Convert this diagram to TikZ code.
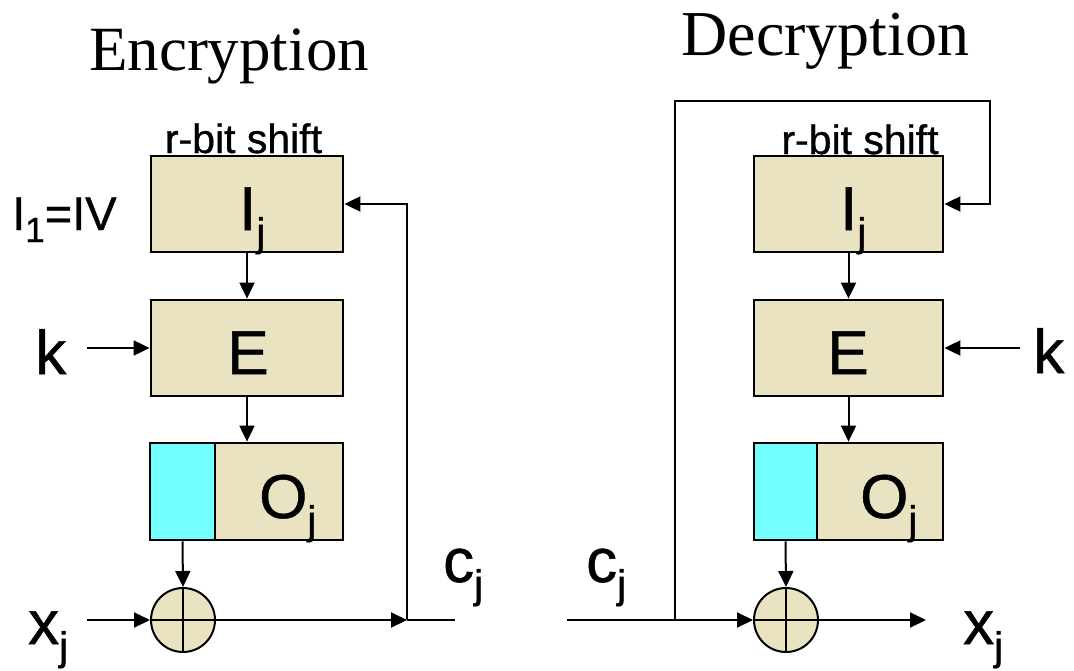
\documentclass[tikz,border=0pt]{standalone}
\usepackage{fontspec}
\setmainfont{Liberation Sans}
\newfontfamily\lblfont[FakeBold=0.8]{Liberation Sans}
\newfontfamily\titlefont{Liberation Serif}
\usetikzlibrary{arrows.meta}
\definecolor{boxtan}{RGB}{234,227,193}
\definecolor{regcyan}{RGB}{116,255,255}
% lowered subscript letter
\newcommand{\lowsub}[1]{\raisebox{-16pt}{\fontsize{40}{40}\selectfont #1}}
\newcommand{\bigtxt}{\lblfont\fontsize{62}{62}\selectfont}

\begin{document}
\begin{tikzpicture}[x=1pt,y=-1pt,
  blk/.style={draw, line width=2.8pt, fill=boxtan, minimum width=192pt,
              minimum height=96pt, inner sep=0pt},
  regpart/.style={draw, line width=2.8pt, minimum height=97pt, inner sep=0pt},
  xorc/.style={draw, line width=2pt, fill=boxtan, circle, minimum size=64pt,
               inner sep=0pt},
  wire/.style={line width=2pt},
  flow/.style={wire, -{Triangle[length=16pt,width=15pt]}},
  lbl/.style={inner sep=0pt, font=\bigtxt},
  headline/.style={inner sep=0pt, anchor=base, font=\titlefont\fontsize{63}{63}\selectfont},
  shiftlbl/.style={inner sep=0pt, anchor=base, font=\lblfont\fontsize{41}{41}\selectfont},
]
\useasboundingbox (0,0) rectangle (1074,670);

% ---------------- Encryption ----------------
\node[headline] (tenc) at (229,70) {Encryption};
\node[shiftlbl] (shL) at (243.5,153) {r-bit shift};

\node[blk] (IL) at (247,204) {};
\node[blk] (EL) at (247,348) {};
\node[regpart, fill=regcyan, minimum width=65pt] (cyL) at (182.5,491.5) {};
\node[regpart, fill=boxtan, minimum width=128pt] (tnL) at (279,491.5) {};
\node[xorc] (xorL) at (183,620) {};
\draw[wire] (xorL.north) -- (xorL.south) (xorL.west) -- (xorL.east);

\node[lbl, anchor=base west] (ijL) at (239,230) {I\lowsub{j}};
\node[lbl, anchor=base] (eL) at (248,374) {E};
\node[lbl, anchor=base west] (ojL) at (259,518) {O\lowsub{j}};
\node[lbl, anchor=base west] (kL) at (35,374) {k};
\node[lbl, anchor=base west] (xjL) at (28,644) {x\lowsub{j}};
\node[lbl, anchor=base west] (cjL) at (443,582) {c\lowsub{j}};
\node[inner sep=0pt, anchor=base west, font=\lblfont\fontsize{47}{47}\selectfont] (ivL)
  at (12,230) {I\raisebox{-12pt}{\fontsize{35}{35}\selectfont 1}=IV};

\coordinate (kinL) at (87,348);
\coordinate (xinL) at (87,620);
\coordinate (junL) at (407,620);
\coordinate (coutL) at (455,620);
\coordinate (upL) at (407,204);

\draw[flow] (IL.south) -- (EL.north);
\draw[flow] (EL.south) -- (EL.south |- tnL.north);
\draw[flow] (cyL.south) -- (xorL.north);
\draw[flow] (kinL) -- (EL.west);
\draw[flow] (xinL) -- (xorL.west);
\draw[flow] (xorL.east) -- (junL);
\draw[wire] (junL) -- (coutL);
\draw[flow] (junL) -- (upL) -- (IL.east);

% ---------------- Decryption ----------------
\node[headline, font=\titlefont\fontsize{64}{64}\selectfont] (tdec) at (825.5,55) {Decryption};
\node[shiftlbl] (shR) at (860,154) {r-bit shift};

\node[blk, minimum width=189pt] (IR) at (848.5,204) {};
\node[blk, minimum width=189pt] (ER) at (848.5,348) {};
\node[regpart, fill=regcyan, minimum width=63pt] (cyR) at (785.5,491.5) {};
\node[regpart, fill=boxtan, minimum width=126pt] (tnR) at (880,491.5) {};
\node[xorc] (xorR) at (786,620) {};
\draw[wire] (xorR.north) -- (xorR.south) (xorR.west) -- (xorR.east);

\node[lbl, anchor=base west] (ijR) at (840,230) {I\lowsub{j}};
\node[lbl, anchor=base] (eR) at (848,374) {E};
\node[lbl, anchor=base west] (ojR) at (860,518) {O\lowsub{j}};
\node[lbl, anchor=base west] (kR) at (1033,373) {k};
\node[lbl, anchor=base west] (xjR) at (963,644) {x\lowsub{j}};
\node[lbl, anchor=base west] (cjR) at (586,582) {c\lowsub{j}};

\coordinate (cinR) at (567,620);
\coordinate (junR) at (675,620);
\coordinate (topLR) at (675,101);
\coordinate (topRR) at (990,101);
\coordinate (backR) at (990,204);
\coordinate (kinR) at (1020,348);
\coordinate (xoutR) at (926,620);

\draw[flow] (cinR) -- (xorR.west);
\draw[flow] (junR) -- (topLR) -- (topRR) -- (backR) -- (IR.east);
\draw[flow] (IR.south) -- (ER.north);
\draw[flow] (ER.south) -- (ER.south |- tnR.north);
\draw[flow] (cyR.south) -- (xorR.north);
\draw[flow] (kinR) -- (ER.east);
\draw[flow] (xorR.east) -- (xoutR);
\end{tikzpicture}
\end{document}
